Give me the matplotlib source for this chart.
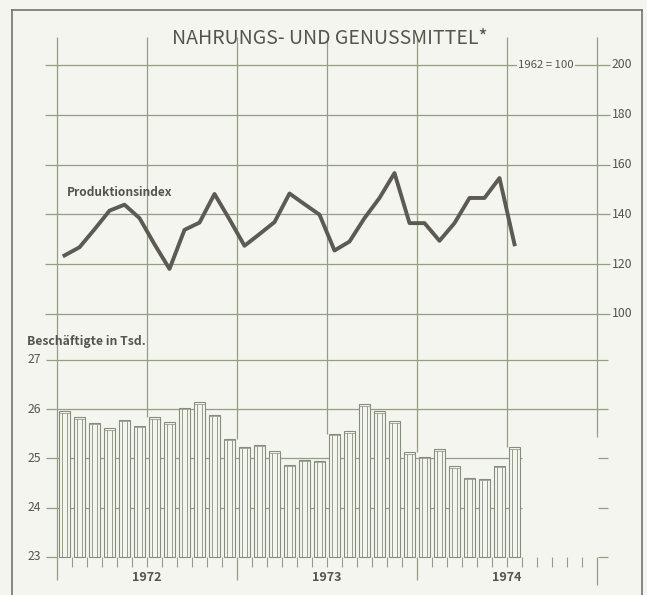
import numpy as np
import matplotlib
matplotlib.use("Agg")
import matplotlib.pyplot as plt
from matplotlib.lines import Line2D

plt.rcParams['font.family'] = ['Noto Sans CJK JP', 'DejaVu Sans']

# Daten: Jan 1972 .. Jul 1974, monatlich
months = np.arange(31)
index_values = [123.5, 126.8, 134.0, 141.5, 143.9, 138.5, 128.0, 118.1, 133.8, 136.7,
                148.2, 138.0, 127.4, 132.1, 136.9, 148.4, 144.1, 139.9, 125.5, 129.1,
                138.5, 146.6, 156.6, 136.5, 136.5, 129.4, 136.5, 146.6, 146.6, 154.6,
                128.0]
employees = [25.96, 25.84, 25.73, 25.61, 25.79, 25.67, 25.84, 25.74, 26.03, 26.14,
             25.89, 25.40, 25.24, 25.28, 25.15, 24.87, 24.97, 24.95, 25.50, 25.55,
             26.10, 25.96, 25.76, 25.13, 25.03, 25.19, 24.84, 24.61, 24.59, 24.85,
             25.23]
index_ticks = [100, 120, 140, 160, 180, 200]
emp_ticks = [23, 24, 25, 26, 27]
years = ['1972', '1973', '1974']

W, H = 647, 595
bg = '#f5f5f0'
grid_c = '#939f85'
bar_c = '#858d7b'
line_c = '#5b5b53'
text_c = '#55554f'


# pixel -> data
def X(px):
    return (px - 64.5) / 15.0


def E(py):
    return 23 + (557 - py) / 49.25


def I(py):
    return 100 + (314 - py) / 2.49


fig = plt.figure(figsize=(W / 100, H / 100), dpi=100, facecolor=bg)
ax = fig.add_axes([0, 0, 1, 1])
ax.set_facecolor(bg)
ax.set_xlim(X(0), X(W))
ax.set_ylim(E(H), E(0))
ax.axis('off')
ax2 = ax.twinx()
ax2.set_ylim(I(H), I(0))
ax2.axis('off')

# Rahmen
for xs, ys in [([12, 12], [600, 10]), ([12, 642], [10, 10]), ([642, 642], [10, 600])]:
    fig.add_artist(Line2D([x / W for x in xs], [1 - y / H for y in ys], color='#74746c', lw=1.2))

fig.text(330 / W, 1 - 38 / H, 'NAHRUNGS- UND GENUSSMITTEL*', ha='center', va='center',
         fontsize=14, color=text_c)

# Produktionsindex: Gitter und Beschriftung rechts
ax2.hlines(index_ticks, X(45), X(610), color=grid_c, lw=0.9, zorder=1)
for v in index_ticks:
    ax2.text(X(612), v, str(v), ha='left', va='center', fontsize=8.8, color=text_c)
ax2.text(X(546), 200, '1962 = 100', ha='center', va='center', fontsize=8.2, color=text_c,
         bbox=dict(facecolor=bg, edgecolor='none', pad=1.0), zorder=2)
ax2.text(X(67), I(193), 'Produktionsindex', ha='left', va='center', fontsize=8.6,
         fontweight='bold', color=text_c)
ax2.plot(months, index_values, color=line_c, lw=2.8, zorder=5)

# Beschaeftigte: Gitter, Ticks, Beschriftung links
ax.hlines([26, 27], X(46), X(608), color=grid_c, lw=0.9, zorder=1)
ax.hlines([24, 25], X(46), months[-1] + 0.5, color=grid_c, lw=0.9, zorder=1)
ax.hlines([23], X(46), X(57), color=grid_c, lw=0.9, zorder=1)
ax.hlines([23, 24, 25], X(598), X(608), color=grid_c, lw=0.9, zorder=1)
for v in emp_ticks:
    ax.text(X(41), v, str(v), ha='right', va='center', fontsize=8.8, color=text_c)
ax.text(X(27), E(342), 'Beschäftigte in Tsd.', ha='left', va='center', fontsize=8.8,
        fontweight='bold', color=text_c)

# senkrechte Linien alle 6 Monate
n = len(months)
top = E(37)
for k in range(7):
    b = -0.5 + 6 * k
    if k == 0:
        ax.vlines(b, E(580), top, color=grid_c, lw=0.9, zorder=1)
        continue
    if k == 6:
        ax.vlines(b, E(437), top, color=grid_c, lw=0.9, zorder=1)
        ax.vlines(b, E(585), 23, color=grid_c, lw=0.9, zorder=1)
        continue
    j = int(b - 0.5)
    ymin = max(employees[j], employees[j + 1]) if j + 1 < n else 23
    ax.vlines(b, ymin, top, color=grid_c, lw=0.9, zorder=1)
    if k % 2 == 0:
        ax.vlines(b, E(580), 23, color=grid_c, lw=0.9, zorder=1)

# Monatsstriche
small = [b + 0.5 for b in range(35) if (b + 1) % 12 != 0]
ax.vlines(small, E(567), 23, color=grid_c, lw=0.8, zorder=1)

# Saeulen (doppelt umrandet)
emp = np.array(employees)
ax.bar(months, emp - 23, bottom=23, width=0.72, facecolor=bg, edgecolor=bar_c, lw=0.8, zorder=3)
ax.vlines(months - 0.14, 23, emp - 0.03, color=bar_c, lw=0.6, zorder=4)
ax.vlines(months + 0.14, 23, emp - 0.03, color=bar_c, lw=0.6, zorder=4)
ax.hlines(emp - 0.03, months - 0.36, months + 0.36, color=bar_c, lw=0.5, zorder=4)

for i, y in enumerate(years):
    ax.text(5.5 + 12 * i, E(578), y, ha='center', va='center', fontsize=9,
            fontweight='bold', color=text_c)

fig.savefig('out.png', dpi=100, facecolor=bg)
